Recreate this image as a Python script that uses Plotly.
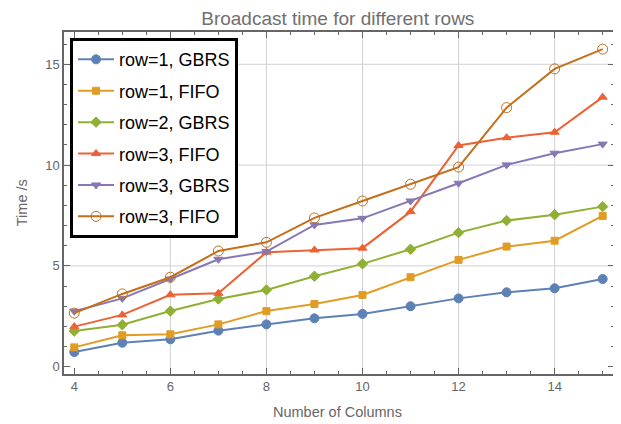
import plotly.graph_objects as go

columns = [4, 5, 6, 7, 8, 9, 10, 11, 12, 13, 14, 15]
row1_gbrs = [0.73, 1.19, 1.36, 1.79, 2.10, 2.40, 2.62, 3.00, 3.39, 3.69, 3.89, 4.35]
row1_fifo = [0.96, 1.56, 1.61, 2.10, 2.76, 3.11, 3.56, 4.44, 5.30, 5.96, 6.25, 7.48]
row2_gbrs = [1.77, 2.08, 2.76, 3.36, 3.81, 4.49, 5.10, 5.83, 6.65, 7.25, 7.54, 7.94]
row3_fifo_a = [1.99, 2.57, 3.57, 3.64, 5.68, 5.79, 5.88, 7.69, 10.97, 11.36, 11.63, 13.37]
row3_gbrs = [2.75, 3.39, 4.35, 5.33, 5.71, 7.03, 7.36, 8.22, 9.10, 10.01, 10.59, 11.04]
row3_fifo_b = [2.66, 3.61, 4.44, 5.74, 6.17, 7.38, 8.22, 9.05, 9.90, 12.85, 14.77, 15.75]

names = ["row=1, GBRS", "row=1, FIFO", "row=2, GBRS", "row=3, FIFO", "row=3, GBRS", "row=3, FIFO"]
series = [row1_gbrs, row1_fifo, row2_gbrs, row3_fifo_a, row3_gbrs, row3_fifo_b]
x_ticks = [4, 6, 8, 10, 12, 14]
y_ticks = [0, 5, 10, 15]
x_grid = [6, 8, 10, 12, 14]
y_grid = [5, 10, 15]

colors = ["#5E81B5", "#E19C24", "#8FB032", "#EB6235", "#8778B3", "#C56E1A"]
symbols = ["circle", "square", "diamond", "triangle-up", "triangle-down", "circle-open"]
sizes = [9, 7, 8, 8, 8, 10]
FONT = "Liberation Sans, Arial"

fig = go.Figure()
for i, (n, s) in enumerate(zip(names, series)):
    fig.add_trace(go.Scatter(
        x=columns, y=s, name=n, mode="lines+markers",
        legendgroup="g%d" % i,
        line=dict(color=colors[i], width=2),
        marker=dict(symbol=symbols[i], size=sizes[i], color=colors[i],
                    line=dict(color=colors[i], width=1)),
    ))

grid_style = dict(color="#d0d0d0", width=1)
shapes = []
for gx in x_grid:
    shapes.append(dict(type="line", xref="x", yref="paper", x0=gx, x1=gx, y0=0, y1=1,
                       line=grid_style, layer="below"))
for gy in y_grid:
    shapes.append(dict(type="line", xref="paper", yref="y", x0=0, x1=1, y0=gy, y1=gy,
                       line=grid_style, layer="below"))

axis_common = dict(
    showline=True, linecolor="#666666", linewidth=1.5, mirror="ticks",
    ticks="inside", ticklen=6, tickcolor="#666666", tickwidth=1,
    showgrid=False, zeroline=False, automargin=False,
    tickfont=dict(family=FONT, size=13, color="#666666"),
)

fig.update_layout(
    width=613, height=416,
    margin=dict(l=56, r=7, t=24, b=50),
    paper_bgcolor="white", plot_bgcolor="white",
    title=dict(text="Broadcast time for different rows", x=0.538, xanchor="center",
               y=0.976, yanchor="middle",
               font=dict(family=FONT, size=19, color="#707070")),
    xaxis=dict(range=[3.786, 15.236], tickvals=x_ticks,
               minor=dict(ticks="inside", ticklen=3, tickcolor="#666666",
                          showgrid=False, dtick=0.5, tick0=4),
               **axis_common),
    yaxis=dict(range=[-0.36, 16.6], tickvals=y_ticks,
               minor=dict(ticks="inside", ticklen=3, tickcolor="#666666",
                          showgrid=False, dtick=1, tick0=0),
               **axis_common),
    shapes=shapes,
    annotations=[
        dict(text="Number of Columns", xref="paper", yref="paper", x=0.498, y=-0.111,
             xanchor="center", yanchor="middle", showarrow=False,
             font=dict(family=FONT, size=14.5, color="#666666")),
        dict(text="Time /s", xref="paper", yref="paper", x=-0.076, y=0.5,
             xanchor="center", yanchor="middle", showarrow=False, textangle=-90,
             font=dict(family=FONT, size=14.5, color="#666666")),
    ],
    legend=dict(x=0.011, y=0.982, xanchor="left", yanchor="top",
                bgcolor="white", bordercolor="black", borderwidth=3,
                traceorder="grouped", tracegroupgap=5, itemwidth=36,
                font=dict(family=FONT, size=18, color="black")),
    showlegend=True,
)

fig.write_html("out.html")
